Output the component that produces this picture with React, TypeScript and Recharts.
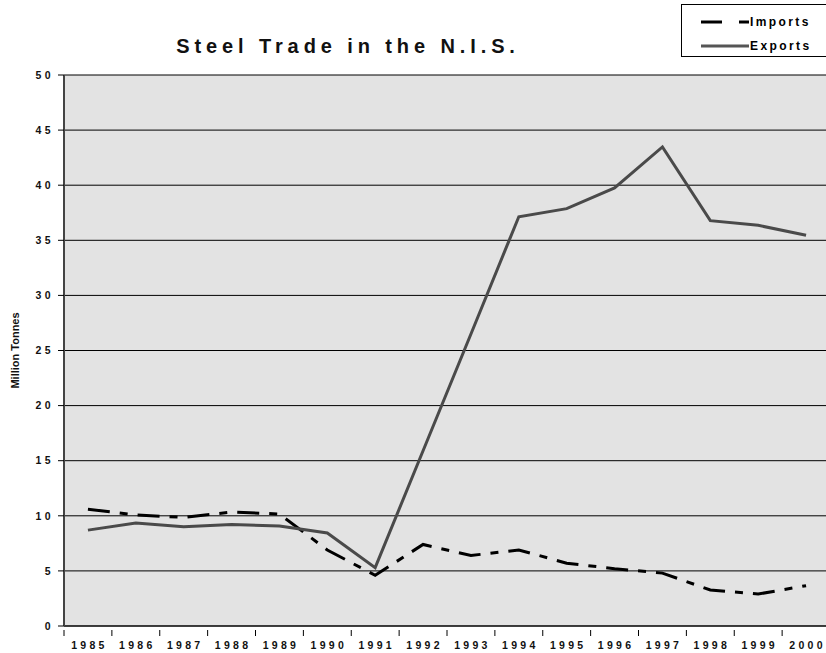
import { CartesianGrid, ComposedChart, Line, XAxis, YAxis } from "recharts";

const years = ["1985", "1986", "1987", "1988", "1989", "1990", "1991", "1992", "1993", "1994", "1995", "1996", "1997", "1998", "1999", "2000"];
const imports = [10.6, 10.07, 9.86, 10.34, 10.16, 6.9, 4.6, 7.4, 6.4, 6.9, 5.7, 5.2, 4.8, 3.27, 2.9, 3.66];
const exports = [8.7, 9.35, 9.0, 9.2, 9.07, 8.44, 5.3, 15.9, 26.5, 37.14, 37.87, 39.75, 43.47, 36.78, 36.36, 35.45];
const yTicks = [0, 5, 10, 15, 20, 25, 30, 35, 40, 45, 50];

const data = years.map((year, i) => ({ year, imports: imports[i], exports: exports[i] }));

const FONT = "'Liberation Sans', Arial, sans-serif";
const BAND = (830 - 64) / years.length;

function YearTick({ x, y, payload }: { x?: number; y?: number; payload?: { value: string } }) {
  const cx = x ?? 0;
  const cy = y ?? 0;
  return (
    <g>
      <line x1={cx - BAND / 2} x2={cx - BAND / 2} y1={cy - 4} y2={cy + 2} stroke="#000" strokeWidth={1} />
      <text
        x={cx + 1.5}
        y={cy + 15}
        textAnchor="middle"
        fontFamily={FONT}
        fontWeight="bold"
        fontSize={10.5}
        fill="#111"
        style={{ letterSpacing: "3.3px" }}
      >
        {payload?.value}
      </text>
    </g>
  );
}

// legend drawn as a plain box so it doesn't eat into the plot area
function LegendBox() {
  const textStyle = { letterSpacing: "2.4px" };
  return (
    <svg width={146} height={53} style={{ position: "absolute", left: 681, top: 4 }}>
      <rect x={0.5} y={0.5} width={150} height={52} fill="#fff" stroke="#000" />
      <line x1={20} x2={68} y1={18} y2={18} stroke="#000" strokeWidth={3} strokeDasharray="21 17 10" />
      <text x={69} y={22} fontFamily={FONT} fontWeight="bold" fontSize={12} style={textStyle}>
        Imports
      </text>
      <line x1={20} x2={68} y1={42} y2={42} stroke="#555" strokeWidth={3} />
      <text x={69} y={46} fontFamily={FONT} fontWeight="bold" fontSize={12} style={textStyle}>
        Exports
      </text>
    </svg>
  );
}

export default function App() {
  return (
    <div style={{ position: "absolute", left: 0, top: 0, width: 826, height: 653, background: "#fff", overflow: "hidden" }}>
      <ComposedChart
        width={830}
        height={653}
        data={data}
        margin={{ top: 75, right: 0, left: 0, bottom: 0 }}
      >
        <CartesianGrid vertical={false} fill="#e3e3e3" stroke="#000" strokeOpacity={1} />
        <XAxis
          dataKey="year"
          height={27}
          tick={<YearTick />}
          tickLine={false}
          axisLine={{ stroke: "#000", strokeWidth: 1 }}
          interval={0}
          padding={{ left: BAND / 2, right: BAND / 2 }}
        />
        <YAxis
          domain={[0, 50]}
          ticks={yTicks}
          width={64}
          tickSize={6}
          tickMargin={4}
          tickLine={{ stroke: "#000" }}
          axisLine={{ stroke: "#444", strokeWidth: 2 }}
          tick={{ fontFamily: FONT, fontWeight: "bold", fontSize: 10.5, fill: "#111", style: { letterSpacing: "3.4px" } }}
          label={{
            value: "Million Tonnes",
            angle: -90,
            position: "insideLeft",
            offset: 15,
            style: { fontFamily: FONT, fontWeight: "bold", fontSize: 11, fill: "#111", textAnchor: "middle" },
          }}
        />
        <Line
          dataKey="imports"
          name="Imports"
          stroke="#000"
          strokeWidth={3}
          strokeDasharray="22 10 8 10"
          dot={false}
          isAnimationActive={false}
        />
        <Line
          dataKey="exports"
          name="Exports"
          stroke="#4a4a4a"
          strokeWidth={3}
          dot={false}
          isAnimationActive={false}
        />
      </ComposedChart>
      <div
        style={{
          position: "absolute",
          left: 64,
          width: 568,
          top: 35,
          textAlign: "center",
          fontFamily: FONT,
          fontWeight: "bold",
          fontSize: 20,
          letterSpacing: "4.9px",
          color: "#111",
        }}
      >
        Steel Trade in the N.I.S.
      </div>
      <LegendBox />
    </div>
  );
}
